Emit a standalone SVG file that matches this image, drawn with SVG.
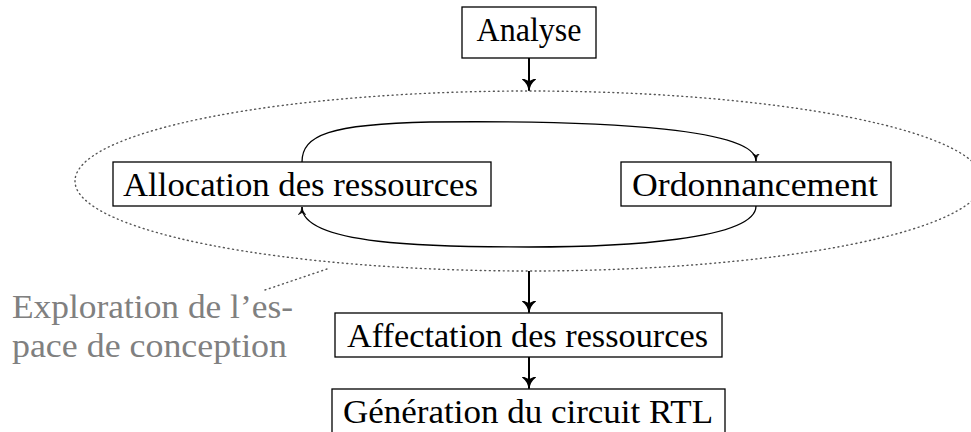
<svg xmlns="http://www.w3.org/2000/svg" width="971" height="432" viewBox="0 0 971 432">
<style>
.box{fill:#fff;stroke:#000;stroke-width:1.3}
.t{font-family:"Liberation Serif","DejaVu Serif",serif;font-size:33px;fill:#000;text-anchor:middle}
.g{font-family:"Liberation Serif","DejaVu Serif",serif;font-size:33px;fill:#808080}
.thick{fill:none;stroke:#000;stroke-width:2}
.thin{fill:none;stroke:#000;stroke-width:1.3}
.dot{fill:none;stroke:#555;stroke-width:1.4;stroke-dasharray:1 3.6;stroke-linecap:round}
</style>
<defs>
<marker id="big" viewBox="0 0 12 14" refX="11" refY="7" markerWidth="12" markerHeight="14" markerUnits="userSpaceOnUse" orient="auto">
<path d="M0,0.5 Q5,7 12,7 Q5,7 0,13.5 L3,7 Z" fill="#000" stroke="#000" stroke-width="1.5" stroke-linejoin="round"/>
</marker>
<marker id="small" viewBox="0 0 8 8" refX="7.5" refY="4" markerWidth="8" markerHeight="8" markerUnits="userSpaceOnUse" orient="auto">
<path d="M0,0.5 Q3,4 8,4 Q3,4 0,7.5 L2,4 Z" fill="#000" stroke="#000" stroke-width="0.8" stroke-linejoin="round"/>
</marker>
</defs>
<g id="exploration">
<ellipse class="dot" cx="529" cy="181" rx="454" ry="90"/>
<path class="dot" d="M265,290 L330,268"/>
<text class="g" x="12" y="318" textLength="281" lengthAdjust="spacingAndGlyphs">Exploration de l’es-</text>
<text class="g" x="12" y="357" textLength="275" lengthAdjust="spacingAndGlyphs">pace de conception</text>
</g>
<g id="connectors">
<path class="thick" d="M529,58 L529,90" marker-end="url(#big)"/>
<path class="thick" d="M529,271 L529,312" marker-end="url(#big)"/>
<path class="thick" d="M529,357 L529,388" marker-end="url(#big)"/>
<path class="thin" d="M302,162 C302,135 330,124 430,122 C620,120 756,130 756,161" marker-end="url(#small)"/>
<path class="thin" d="M756,206 C756,240 620,247 529,247 C430,247 302,245 302,207" marker-end="url(#small)"/>
</g>
<g id="analyse">
<rect class="box" x="462" y="7" width="134" height="51"/>
<text class="t" x="529" y="41" textLength="105" lengthAdjust="spacingAndGlyphs">Analyse</text>
</g>
<g id="allocation">
<rect class="box" x="113" y="162" width="378" height="44"/>
<text class="t" x="300.5" y="196" textLength="355" lengthAdjust="spacingAndGlyphs">Allocation des ressources</text>
</g>
<g id="ordonnancement">
<rect class="box" x="621" y="162" width="270" height="44"/>
<text class="t" x="755" y="196" textLength="246" lengthAdjust="spacingAndGlyphs">Ordonnancement</text>
</g>
<g id="affectation">
<rect class="box" x="335" y="313" width="387" height="44"/>
<text class="t" x="527.5" y="347" textLength="361" lengthAdjust="spacingAndGlyphs">Affectation des ressources</text>
</g>
<g id="generation">
<rect class="box" x="332" y="389" width="393" height="48"/>
<text class="t" x="528" y="423" textLength="370" lengthAdjust="spacingAndGlyphs">Génération du circuit RTL</text>
</g>
</svg>
